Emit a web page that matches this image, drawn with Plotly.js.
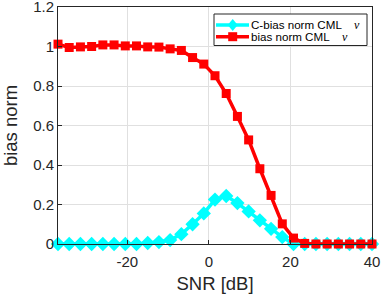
<!DOCTYPE html>
<html>
<head>
<meta charset="utf-8">
<script src="https://cdn.plot.ly/plotly-3.0.1.min.js"></script>
<style>html,body{margin:0;padding:0;background:#fff;}#chart{width:382px;height:294px;}</style>
</head>
<body>
<div id="chart"></div>
<script>
// SNR grid in dB
const snr = [-37, -34.25, -31.5, -28.75, -26, -23.25, -20.5, -17.75, -15, -12.25,
             -9.5, -6.75, -4, -1.25, 1.5, 4.25, 7, 9.75, 12.5, 15.25,
             18, 20.75, 23.5, 26.25, 29, 31.75, 34.5, 37.25, 40];
const cBiasNorm = [0, 0, 0, 0, 0, 0, 0, 0, 0.005, 0.01,
                   0.02, 0.05, 0.1, 0.155, 0.225, 0.243, 0.207, 0.165, 0.12, 0.077,
                   0.035, 0, 0, 0, 0, 0, 0, 0, 0];
const biasNorm = [1.012, 0.995, 0.998, 1.0, 1.008, 1.008, 1.003, 1.003, 0.998, 0.997,
                  0.988, 0.98, 0.944, 0.911, 0.852, 0.762, 0.646, 0.527, 0.381, 0.246,
                  0.102, 0.03, 0.003, 0, 0, 0, 0, 0, 0];
const seriesNames = ['C-bias norm CML', 'bias norm CML'];
const seriesSymbol = 'ν';
const seriesColors = ['#00ffff', '#ff0000'];
const xTicks = [-20, 0, 20, 40];
const yTicks = [0, 0.2, 0.4, 0.6, 0.8, 1, 1.2];
const yTickText = ['0', '0.2', '0.4', '0.6', '0.8', '1', '1.2'];

const traces = [
  {x: snr, y: cBiasNorm, name: seriesNames[0], type: 'scatter', mode: 'lines+markers',
   cliponaxis: false, showlegend: false,
   line: {color: seriesColors[0], width: 3.5},
   marker: {symbol: 'diamond', size: 11, color: seriesColors[0]}},
  {x: snr, y: biasNorm, name: seriesNames[1], type: 'scatter', mode: 'lines+markers',
   cliponaxis: false, showlegend: false,
   line: {color: seriesColors[1], width: 3.5},
   marker: {symbol: 'square', size: 9, color: seriesColors[1]}}
];

// Hand-built legend (paper coordinates) to match compact row spacing
const W = 314, H = 237; // plot area size in px
const px = v => (v - 58) / W;
const py = v => (244 - v) / H;
const rowsY = [25, 36.7];
const shapes = [
  {type: 'rect', xref: 'paper', yref: 'paper', x0: px(214), x1: px(367), y0: py(14), y1: py(45.5),
   line: {color: '#262626', width: 1}, fillcolor: '#fff', layer: 'above'}
];
const annotations = [];
rowsY.forEach((ry, i) => {
  shapes.push({type: 'line', xref: 'paper', yref: 'paper', x0: px(216), x1: px(249), y0: py(ry), y1: py(ry),
               line: {color: seriesColors[i], width: 3.5}, layer: 'above'});
  const path = i === 0
    ? 'M 0 6 L 5 0 L 0 -6 L -5 0 Z'
    : 'M -4.5 -4.5 L 4.5 -4.5 L 4.5 4.5 L -4.5 4.5 Z';
  shapes.push({type: 'path', xref: 'paper', yref: 'paper', xsizemode: 'pixel', ysizemode: 'pixel',
               xanchor: px(232.7), yanchor: py(ry), path: path,
               fillcolor: seriesColors[i], line: {color: seriesColors[i], width: 0}, layer: 'above'});
  annotations.push({xref: 'paper', yref: 'paper', x: px(250), y: py(ry), xanchor: 'left', yanchor: 'middle',
                    text: seriesNames[i], showarrow: false, borderpad: 0,
                    font: {family: 'Liberation Sans, Arial, sans-serif', size: 11.6, color: '#000'}});
  annotations.push({xref: 'paper', yref: 'paper', x: px(i === 0 ? 357 : 345), y: py(ry), xanchor: 'center', yanchor: 'middle',
                    text: '<i>' + seriesSymbol + '</i>', showarrow: false, borderpad: 0,
                    font: {family: 'Liberation Serif, serif', size: 12, color: '#000'}});
});

const layout = {
  width: 382, height: 294,
  margin: {l: 58, r: 10, t: 7, b: 50},
  paper_bgcolor: '#fff', plot_bgcolor: '#fff',
  font: {family: 'Liberation Sans, Arial, sans-serif', size: 15, color: '#262626'},
  showlegend: false,
  shapes: shapes,
  annotations: annotations,
  xaxis: {range: [-37, 40], tickvals: xTicks, ticktext: xTicks.map(String),
          showgrid: true, gridcolor: '#e0e0e0', zeroline: false,
          showline: true, linecolor: '#262626', linewidth: 1, mirror: true,
          ticks: 'inside', ticklen: 4, tickcolor: '#262626', ticklabelstandoff: 4,
          title: {text: 'SNR [dB]', font: {size: 18.5}, standoff: 8}},
  yaxis: {range: [0, 1.2], tickvals: yTicks, ticktext: yTickText,
          showgrid: true, gridcolor: '#e0e0e0', zeroline: false,
          showline: true, linecolor: '#262626', linewidth: 1, mirror: true,
          ticks: 'inside', ticklen: 4, tickcolor: '#262626', ticklabeloverflow: 'allow',
          title: {text: 'bias norm', font: {size: 18.5}, standoff: 10}}
};

Plotly.newPlot('chart', traces, layout, {staticPlot: true, displayModeBar: false});
</script>
</body>
</html>
